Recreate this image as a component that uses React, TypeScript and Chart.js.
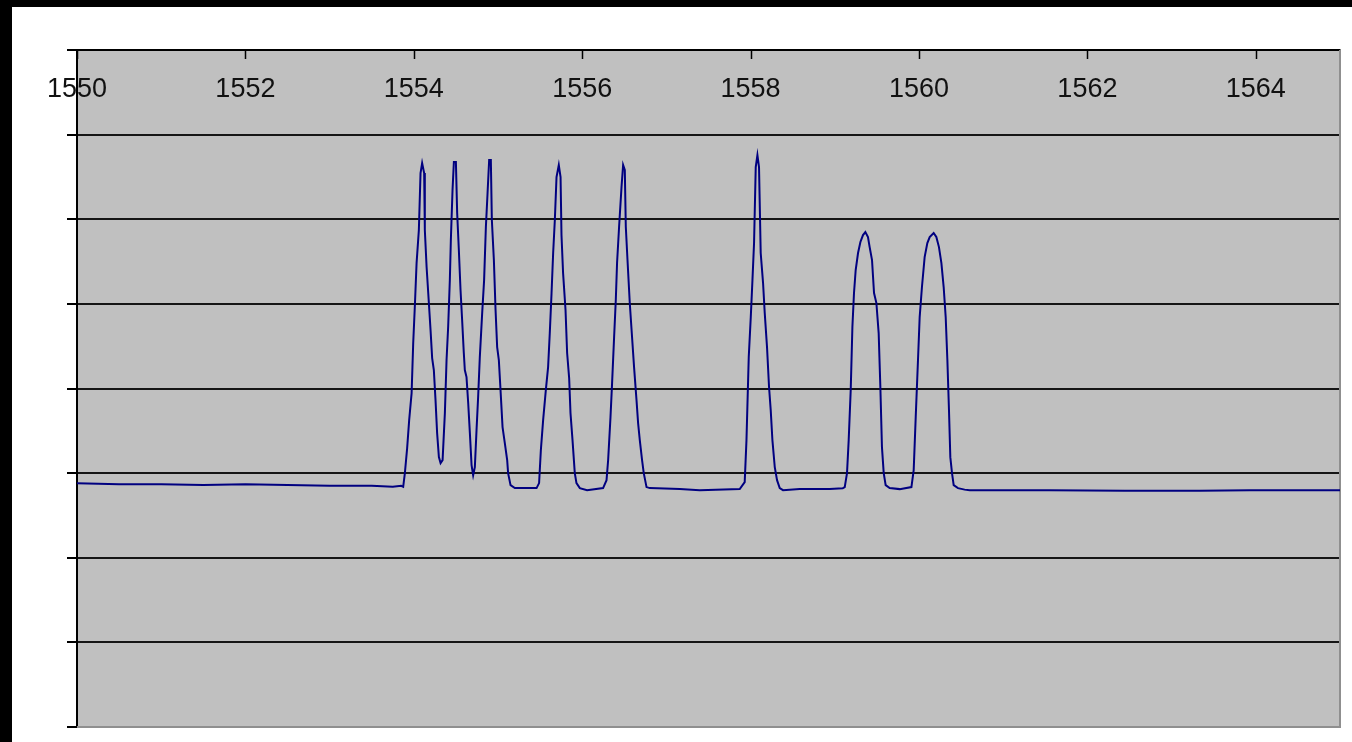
import React, { useEffect, useRef } from "react";
import { Chart, registerables } from "chart.js";

Chart.register(...registerables);

// X axis tick labels (wavelength, nm)
const xTickValues = [1550, 1552, 1554, 1556, 1558, 1560, 1562, 1564];
// Y gridline values (power, dBm) – labels hidden as in the reference
const yTickValues = [-80, -70, -60, -50, -40, -30, -20, -10, 0];

// Spectrum samples
const wavelengthNm = [
  1550.0, 1550.5, 1551.0, 1551.5, 1552.0, 1552.5, 1553.0, 1553.5, 1553.75, 1553.85,
  1553.874, 1553.894, 1553.921, 1553.945, 1553.974, 1553.993, 1554.013, 1554.033, 1554.06, 1554.08, 1554.099,
  1554.123, 1554.131, 1554.152, 1554.179, 1554.199, 1554.218, 1554.238, 1554.258, 1554.277, 1554.298, 1554.318,
  1554.342, 1554.369, 1554.389, 1554.408, 1554.428, 1554.44, 1554.46, 1554.476, 1554.5, 1554.515,
  1554.535, 1554.555, 1554.574, 1554.594, 1554.606, 1554.626, 1554.646, 1554.666, 1554.686, 1554.705,
  1554.725, 1554.745, 1554.764, 1554.784, 1554.812, 1554.835, 1554.856, 1554.876, 1554.895, 1554.915, 1554.927,
  1554.951, 1554.971, 1554.99, 1555.01, 1555.03, 1555.054, 1555.081, 1555.109, 1555.12, 1555.149, 1555.2,
  1555.458, 1555.488, 1555.509, 1555.536, 1555.568, 1555.595, 1555.615, 1555.636, 1555.655, 1555.675, 1555.695,
  1555.722, 1555.743, 1555.754, 1555.773, 1555.802, 1555.821, 1555.845, 1555.861, 1555.885, 1555.912, 1555.932,
  1555.972, 1556.058,
  1556.248, 1556.289, 1556.308, 1556.336, 1556.355, 1556.379, 1556.399, 1556.414, 1556.438, 1556.467, 1556.486,
  1556.506, 1556.518, 1556.538, 1556.565, 1556.592, 1556.616, 1556.645, 1556.664, 1556.684, 1556.711, 1556.731,
  1556.764, 1556.803,
  1557.159, 1557.396, 1557.871,
  1557.93, 1557.951, 1557.978, 1558.002, 1558.022, 1558.041, 1558.061, 1558.081, 1558.1, 1558.12,
  1558.148, 1558.168, 1558.195, 1558.219, 1558.239, 1558.259, 1558.287, 1558.314, 1558.346, 1558.385,
  1558.583, 1558.94, 1559.094,
  1559.118, 1559.145, 1559.165, 1559.189, 1559.209, 1559.228, 1559.248, 1559.276, 1559.304, 1559.335, 1559.363,
  1559.394, 1559.414, 1559.442, 1559.466, 1559.494, 1559.521, 1559.541, 1559.56, 1559.581, 1559.604, 1559.652,
  1559.771,
  1559.91, 1559.937, 1559.961, 1559.988, 1560.008, 1560.035, 1560.067, 1560.099, 1560.127, 1560.174, 1560.206,
  1560.237, 1560.266, 1560.293, 1560.317, 1560.337, 1560.356, 1560.372, 1560.392, 1560.412, 1560.463,
  1560.542, 1560.602, 1560.958, 1561.551, 1562.442, 1562.976, 1563.332, 1563.926, 1565.0,
];

const powerDbm = [
  -51.2, -51.3, -51.3, -51.4, -51.3, -51.4, -51.5, -51.5, -51.6, -51.5,
  -51.62, -50.0, -47.04, -43.73, -40.54, -34.63, -30.14, -25.18, -21.28, -14.54, -13.36,
  -14.54, -21.28, -25.65, -29.9, -33.1, -36.41, -37.82, -41.37, -45.27, -48.11, -48.82,
  -48.46, -42.91, -36.64, -32.74, -27.19, -22.46, -16.55, -13.24, -13.24, -19.27,
  -23.64, -28.37, -31.91, -35.81, -37.82, -38.65, -41.72, -45.27, -49.05, -50.24,
  -49.29, -44.92, -41.02, -36.29, -31.09, -27.19, -20.92, -16.9, -13.0, -13.0, -20.09,
  -24.82, -30.73, -35.11, -36.64, -40.19, -44.56, -46.45, -48.46, -50.0, -51.42, -51.77,
  -51.77, -51.18, -47.28, -43.73, -40.19, -37.47, -33.45, -28.72, -23.99, -20.09, -15.01,
  -13.59, -15.01, -21.87, -26.36, -30.73, -35.81, -38.77, -42.91, -46.1, -50.0, -51.18,
  -51.77, -52.01,
  -51.77, -50.83, -48.46, -43.38, -39.36, -33.92, -29.55, -25.18, -20.92, -16.19, -13.59,
  -14.18, -20.92, -24.82, -29.9, -33.92, -37.47, -41.37, -44.09, -46.1, -48.46, -50.0,
  -51.65, -51.77,
  -51.89, -52.01, -51.89,
  -51.06, -46.1, -36.29, -31.56, -27.19, -22.81, -13.83, -12.41, -13.83, -23.99,
  -27.54, -31.09, -35.11, -39.83, -42.55, -46.1, -49.29, -50.83, -51.77, -52.01,
  -51.89, -51.89, -51.8,
  -51.65, -50.0, -46.1, -40.19, -32.74, -28.72, -26.0, -23.99, -22.69, -21.87, -21.51,
  -22.1, -23.29, -24.82, -28.72, -29.9, -33.45, -39.83, -46.93, -50.0, -51.42, -51.77,
  -51.89,
  -51.65, -49.64, -43.38, -36.64, -31.56, -28.01, -24.47, -22.81, -22.1, -21.63, -22.1,
  -23.29, -25.18, -28.01, -31.56, -36.64, -42.55, -48.11, -50.0, -51.42, -51.77,
  -51.95, -52.01, -52.01, -52.01, -52.07, -52.07, -52.07, -52.01, -52.01,
];

const plotFrame = {
  id: "plotFrame",
  beforeDraw(chart: any) {
    const { ctx, chartArea: a } = chart;
    ctx.save();
    ctx.fillStyle = "#c0c0c0";
    ctx.fillRect(a.left, a.top, a.right - a.left, a.bottom - a.top);
    ctx.restore();
  },
  beforeDatasetsDraw(chart: any) {
    const { ctx, chartArea: a } = chart;
    const xs = chart.scales.x;
    ctx.save();
    // right and bottom frame
    ctx.strokeStyle = "#8f8f8f";
    ctx.lineWidth = 2;
    ctx.beginPath();
    ctx.moveTo(a.right, a.top);
    ctx.lineTo(a.right, a.bottom);
    ctx.lineTo(a.left, a.bottom);
    ctx.stroke();
    // inward tick marks of the top x axis
    ctx.strokeStyle = "#000";
    ctx.lineWidth = 1.5;
    ctx.beginPath();
    xs.ticks.forEach((t: any) => {
      const px = Math.round(xs.getPixelForValue(t.value)) + 0.5;
      ctx.moveTo(px, a.top);
      ctx.lineTo(px, a.top + 9);
    });
    ctx.stroke();
    ctx.restore();
  },
};

export default function App() {
  const canvasRef = useRef<HTMLCanvasElement | null>(null);

  useEffect(() => {
    const canvas = canvasRef.current;
    if (!canvas) return;
    const chart = new Chart(canvas, {
      type: "line",
      data: {
        datasets: [
          {
            data: wavelengthNm.map((x, i) => ({ x, y: powerDbm[i] })),
            borderColor: "#000080",
            borderWidth: 2,
            pointRadius: 0,
            tension: 0,
            fill: false,
          },
        ],
      },
      options: {
        animation: false,
        responsive: false,
        layout: { padding: { left: 0, top: 0, right: 12, bottom: 15 } },
        plugins: {
          legend: { display: false },
          tooltip: { enabled: false },
        },
        scales: {
          x: {
            type: "linear",
            position: "top",
            min: 1550,
            max: 1565,
            afterBuildTicks: (s: any) => {
              s.ticks = xTickValues.map((v) => ({ value: v }));
            },
            afterFit: (s: any) => {
              s.height = 43;
            },
            grid: {
              drawOnChartArea: false,
              drawTicks: false,
              color: "#000",
              lineWidth: 1.5,
            },
            border: { display: true, color: "#000", width: 2 },
            ticks: {
              mirror: true,
              padding: 23,
              color: "#111",
              autoSkip: false,
              maxRotation: 0,
              font: { family: "'Liberation Sans', Arial, sans-serif", size: 27 },
              callback: (v: any) => String(v),
            },
          },
          y: {
            type: "linear",
            min: -80,
            max: 0,
            afterBuildTicks: (s: any) => {
              s.ticks = yTickValues.map((v) => ({ value: v }));
            },
            afterFit: (s: any) => {
              s.width = 65;
            },
            ticks: { display: false },
            grid: {
              color: (c: any) => (c.tick && c.tick.value === -80 ? "rgba(0,0,0,0)" : "#151515"),
              lineWidth: 2,
              drawTicks: true,
              tickLength: 10,
              tickColor: "#000",
              tickWidth: 2,
            },
            border: { display: true, color: "#000", width: 2 },
          },
        },
      },
      plugins: [plotFrame],
    });
    return () => chart.destroy();
  }, []);

  return (
    <div style={{ position: "fixed", left: 0, top: 0, width: 1352, height: 742, background: "#000" }}>
      <div style={{ position: "absolute", left: 12, top: 7, width: 1340, height: 735, background: "#fff" }}>
        <canvas ref={canvasRef} width={1340} height={735} style={{ display: "block" }} />
      </div>
    </div>
  );
}
